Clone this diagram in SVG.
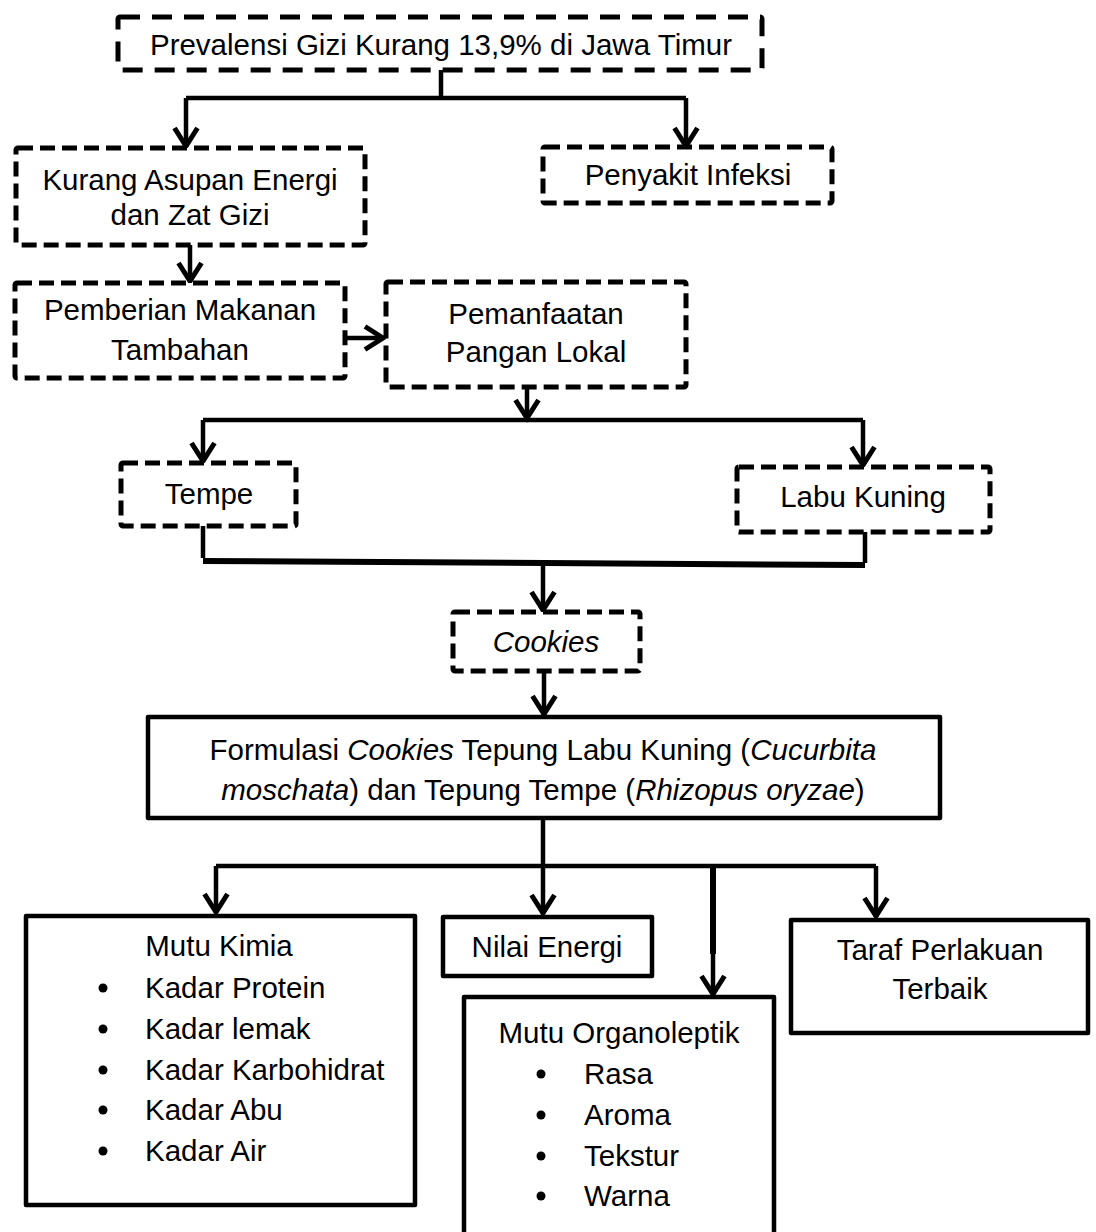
<svg xmlns="http://www.w3.org/2000/svg" width="1096" height="1232" viewBox="0 0 1096 1232">
<style>
.dash{fill:#fff;stroke:#000;stroke-width:5;stroke-dasharray:15 7;stroke-linejoin:round}
.dashL{fill:#fff;stroke:#000;stroke-width:5;stroke-dasharray:20 12;stroke-linejoin:round}
.solid{fill:#fff;stroke:#000;stroke-width:4.5;stroke-linejoin:round}
.ln{fill:none;stroke:#000;stroke-width:4.5;stroke-linecap:butt}
.thick{fill:none;stroke:#000;stroke-width:6}
text{font-family:"Liberation Sans",Arial,sans-serif;font-size:29.5px;fill:#000}
.c{text-anchor:middle}
.i{font-style:italic}
</style>
<defs>
<marker id="arr" markerUnits="userSpaceOnUse" markerWidth="28" markerHeight="28" viewBox="0 0 28 28" refX="23" refY="14" orient="auto">
<path d="M4,2.5 L22,14 L4,25.5" fill="none" stroke="#000" stroke-width="5" stroke-linejoin="miter"/>
</marker>
</defs>

<g id="connectors">
<path class="ln" d="M441,70 V98 M186,98 H686"/>
<path class="ln" d="M186,98 V147" marker-end="url(#arr)"/>
<path class="ln" d="M686,98 V147" marker-end="url(#arr)"/>
<path class="ln" d="M190,245 V282" marker-end="url(#arr)"/>
<path class="ln" d="M346,338 H384" marker-end="url(#arr)"/>
<path class="ln" d="M527,387 V419" marker-end="url(#arr)"/>
<path class="ln" d="M203,420 H863"/>
<path class="ln" d="M203,420 V462" marker-end="url(#arr)"/>
<path class="ln" d="M863,420 V466" marker-end="url(#arr)"/>
<path class="ln" d="M203,526 V558 M865,532 V563"/>
<path class="thick" d="M203,561 L865,565"/>
<path class="ln" d="M543,564 V611" marker-end="url(#arr)"/>
<path class="ln" d="M544,671 V715" marker-end="url(#arr)"/>
<path class="ln" d="M543,818 V914" marker-end="url(#arr)"/>
<path class="ln" d="M216,866 H876"/>
<path class="ln" d="M216,866 V913" marker-end="url(#arr)"/>
<path class="ln" d="M876,866 V917" marker-end="url(#arr)"/>
<path class="thick" d="M713,866 V954"/>
<path class="ln" d="M713,954 V995" marker-end="url(#arr)"/>
</g>

<g id="n-prevalensi">
<rect class="dashL" x="118" y="17" width="644" height="53" rx="2"/>
<text class="c" x="441" y="55">Prevalensi Gizi Kurang 13,9% di Jawa Timur</text>
</g>
<g id="n-kurang">
<rect class="dash" x="16" y="148" width="349" height="97" rx="2"/>
<text class="c" x="190" y="190">Kurang Asupan Energi</text>
<text class="c" x="190" y="225">dan Zat Gizi</text>
</g>
<g id="n-infeksi">
<rect class="dash" x="543" y="147" width="289" height="56" rx="2"/>
<text class="c" x="688" y="185">Penyakit Infeksi</text>
</g>
<g id="n-pemberian">
<rect class="dash" x="15" y="283" width="330" height="95" rx="2"/>
<text class="c" x="180" y="320">Pemberian Makanan</text>
<text class="c" x="180" y="360">Tambahan</text>
</g>
<g id="n-pemanfaatan">
<rect class="dash" x="386" y="282" width="300" height="105" rx="2"/>
<text class="c" x="536" y="324">Pemanfaatan</text>
<text class="c" x="536" y="362">Pangan Lokal</text>
</g>
<g id="n-tempe">
<rect class="dash" x="121" y="463" width="175" height="63" rx="2"/>
<text class="c" x="209" y="504">Tempe</text>
</g>
<g id="n-labu">
<rect class="dash" x="737" y="467" width="253" height="65" rx="2"/>
<text class="c" x="863" y="507">Labu Kuning</text>
</g>
<g id="n-cookies">
<rect class="dash" x="453" y="612" width="187" height="59" rx="2"/>
<text class="c i" x="546" y="652">Cookies</text>
</g>
<g id="n-formulasi">
<rect class="solid" x="148" y="717" width="792" height="101"/>
<text class="c" x="543" y="760">Formulasi <tspan class="i">Cookies</tspan> Tepung Labu Kuning (<tspan class="i">Cucurbita</tspan></text>
<text class="c" x="543" y="800"><tspan class="i">moschata</tspan>) dan Tepung Tempe (<tspan class="i">Rhizopus oryzae</tspan>)</text>
</g>
<g id="n-kimia">
<rect class="solid" x="26" y="916" width="389" height="289"/>
<text class="c" x="219" y="956">Mutu Kimia</text>
<g>
<circle cx="103" cy="988" r="4.5"/><text x="145" y="998">Kadar Protein</text>
<circle cx="103" cy="1029" r="4.5"/><text x="145" y="1039">Kadar lemak</text>
<circle cx="103" cy="1070" r="4.5"/><text x="145" y="1080">Kadar Karbohidrat</text>
<circle cx="103" cy="1110" r="4.5"/><text x="145" y="1120">Kadar Abu</text>
<circle cx="103" cy="1151" r="4.5"/><text x="145" y="1161">Kadar Air</text>
</g>
</g>
<g id="n-energi">
<rect class="solid" x="443" y="917" width="209" height="59"/>
<text class="c" x="547" y="957">Nilai Energi</text>
</g>
<g id="n-organoleptik">
<rect class="solid" x="464" y="997" width="310" height="250"/>
<text class="c" x="619" y="1043">Mutu Organoleptik</text>
<circle cx="541" cy="1074" r="4.5"/><text x="584" y="1084">Rasa</text>
<circle cx="541" cy="1115" r="4.5"/><text x="584" y="1125">Aroma</text>
<circle cx="541" cy="1156" r="4.5"/><text x="584" y="1166">Tekstur</text>
<circle cx="541" cy="1196" r="4.5"/><text x="584" y="1206">Warna</text>
</g>
<g id="n-taraf">
<rect class="solid" x="791" y="920" width="297" height="113"/>
<text class="c" x="940" y="960">Taraf Perlakuan</text>
<text class="c" x="940" y="999">Terbaik</text>
</g>
</svg>
